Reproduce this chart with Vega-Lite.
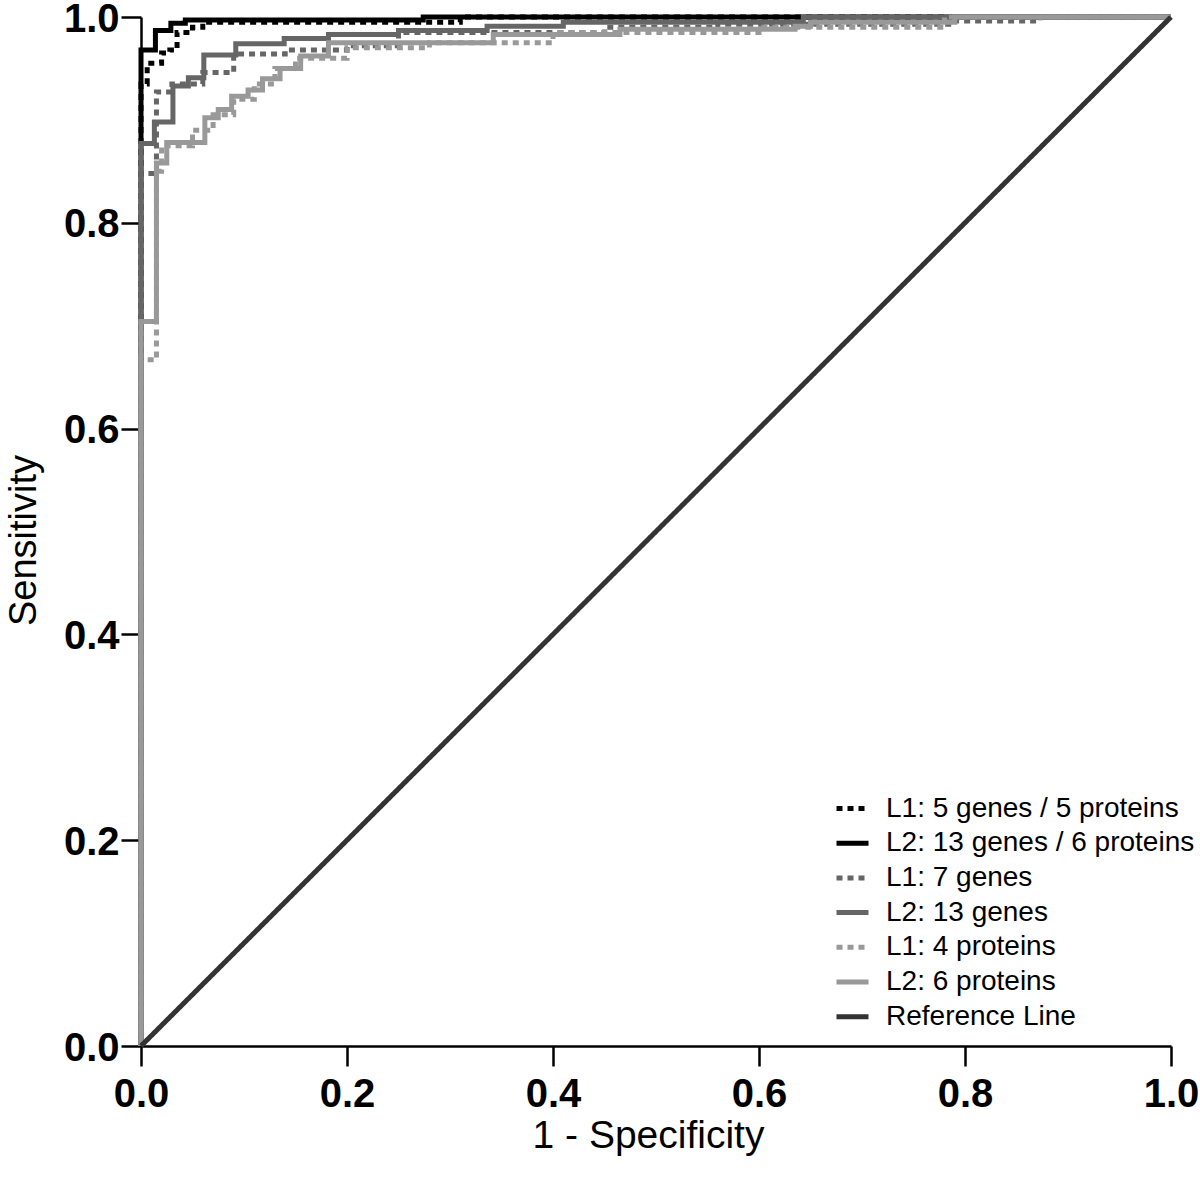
{
  "$schema": "https://vega.github.io/schema/vega-lite/v6.json",
  "autosize": "none",
  "width": 1030,
  "height": 1029,
  "padding": {"left": 141, "top": 17, "right": 29, "bottom": 136},
  "background": "white",
  "config": {
    "view": {"stroke": null},
    "font": "Liberation Sans"
  },
  "data": {
    "values": [
      {"s": "L1: 5 genes / 5 proteins", "i": 0, "x": 0, "y": 0},
      {"s": "L1: 5 genes / 5 proteins", "i": 1, "x": 0, "y": 0.935},
      {"s": "L1: 5 genes / 5 proteins", "i": 2, "x": 0.006, "y": 0.955},
      {"s": "L1: 5 genes / 5 proteins", "i": 3, "x": 0.02, "y": 0.965},
      {"s": "L1: 5 genes / 5 proteins", "i": 4, "x": 0.028, "y": 0.968},
      {"s": "L1: 5 genes / 5 proteins", "i": 5, "x": 0.035, "y": 0.985},
      {"s": "L1: 5 genes / 5 proteins", "i": 6, "x": 0.05, "y": 0.99},
      {"s": "L1: 5 genes / 5 proteins", "i": 7, "x": 0.06, "y": 0.995},
      {"s": "L1: 5 genes / 5 proteins", "i": 8, "x": 0.31, "y": 1},
      {"s": "L1: 5 genes / 5 proteins", "i": 9, "x": 1, "y": 1},

      {"s": "L2: 13 genes / 6 proteins", "i": 0, "x": 0, "y": 0},
      {"s": "L2: 13 genes / 6 proteins", "i": 1, "x": 0, "y": 0.968},
      {"s": "L2: 13 genes / 6 proteins", "i": 2, "x": 0.014, "y": 0.987},
      {"s": "L2: 13 genes / 6 proteins", "i": 3, "x": 0.029, "y": 0.994},
      {"s": "L2: 13 genes / 6 proteins", "i": 4, "x": 0.043, "y": 0.997},
      {"s": "L2: 13 genes / 6 proteins", "i": 5, "x": 0.274, "y": 1},
      {"s": "L2: 13 genes / 6 proteins", "i": 6, "x": 1, "y": 1},

      {"s": "L1: 7 genes", "i": 0, "x": 0, "y": 0},
      {"s": "L1: 7 genes", "i": 1, "x": 0, "y": 0.848},
      {"s": "L1: 7 genes", "i": 2, "x": 0.015, "y": 0.927},
      {"s": "L1: 7 genes", "i": 3, "x": 0.03, "y": 0.935},
      {"s": "L1: 7 genes", "i": 4, "x": 0.06, "y": 0.946},
      {"s": "L1: 7 genes", "i": 5, "x": 0.09, "y": 0.964},
      {"s": "L1: 7 genes", "i": 6, "x": 0.14, "y": 0.968},
      {"s": "L1: 7 genes", "i": 7, "x": 0.2, "y": 0.972},
      {"s": "L1: 7 genes", "i": 8, "x": 0.25, "y": 0.985},
      {"s": "L1: 7 genes", "i": 9, "x": 0.45, "y": 0.99},
      {"s": "L1: 7 genes", "i": 10, "x": 0.56, "y": 0.993},
      {"s": "L1: 7 genes", "i": 11, "x": 0.79, "y": 0.996},
      {"s": "L1: 7 genes", "i": 12, "x": 0.873, "y": 1},
      {"s": "L1: 7 genes", "i": 13, "x": 1, "y": 1},

      {"s": "L2: 13 genes", "i": 0, "x": 0, "y": 0},
      {"s": "L2: 13 genes", "i": 1, "x": 0, "y": 0.877},
      {"s": "L2: 13 genes", "i": 2, "x": 0.013, "y": 0.898},
      {"s": "L2: 13 genes", "i": 3, "x": 0.031, "y": 0.933},
      {"s": "L2: 13 genes", "i": 4, "x": 0.046, "y": 0.941},
      {"s": "L2: 13 genes", "i": 5, "x": 0.061, "y": 0.963},
      {"s": "L2: 13 genes", "i": 6, "x": 0.092, "y": 0.974},
      {"s": "L2: 13 genes", "i": 7, "x": 0.139, "y": 0.979},
      {"s": "L2: 13 genes", "i": 8, "x": 0.182, "y": 0.983},
      {"s": "L2: 13 genes", "i": 9, "x": 0.25, "y": 0.987},
      {"s": "L2: 13 genes", "i": 10, "x": 0.336, "y": 0.991},
      {"s": "L2: 13 genes", "i": 11, "x": 0.41, "y": 0.995},
      {"s": "L2: 13 genes", "i": 12, "x": 0.643, "y": 1},
      {"s": "L2: 13 genes", "i": 13, "x": 1, "y": 1},

      {"s": "L1: 4 proteins", "i": 0, "x": 0, "y": 0},
      {"s": "L1: 4 proteins", "i": 1, "x": 0, "y": 0.667},
      {"s": "L1: 4 proteins", "i": 2, "x": 0.015, "y": 0.85},
      {"s": "L1: 4 proteins", "i": 3, "x": 0.02, "y": 0.875},
      {"s": "L1: 4 proteins", "i": 4, "x": 0.05, "y": 0.89},
      {"s": "L1: 4 proteins", "i": 5, "x": 0.07, "y": 0.905},
      {"s": "L1: 4 proteins", "i": 6, "x": 0.09, "y": 0.92},
      {"s": "L1: 4 proteins", "i": 7, "x": 0.11, "y": 0.935},
      {"s": "L1: 4 proteins", "i": 8, "x": 0.13, "y": 0.95},
      {"s": "L1: 4 proteins", "i": 9, "x": 0.15, "y": 0.96},
      {"s": "L1: 4 proteins", "i": 10, "x": 0.2, "y": 0.97},
      {"s": "L1: 4 proteins", "i": 11, "x": 0.28, "y": 0.975},
      {"s": "L1: 4 proteins", "i": 12, "x": 0.4, "y": 0.985},
      {"s": "L1: 4 proteins", "i": 13, "x": 0.6, "y": 0.99},
      {"s": "L1: 4 proteins", "i": 14, "x": 0.78, "y": 1},
      {"s": "L1: 4 proteins", "i": 15, "x": 1, "y": 1},

      {"s": "L2: 6 proteins", "i": 0, "x": 0, "y": 0},
      {"s": "L2: 6 proteins", "i": 1, "x": 0, "y": 0.704},
      {"s": "L2: 6 proteins", "i": 2, "x": 0.015, "y": 0.858},
      {"s": "L2: 6 proteins", "i": 3, "x": 0.025, "y": 0.878},
      {"s": "L2: 6 proteins", "i": 4, "x": 0.062, "y": 0.902},
      {"s": "L2: 6 proteins", "i": 5, "x": 0.075, "y": 0.91},
      {"s": "L2: 6 proteins", "i": 6, "x": 0.088, "y": 0.923},
      {"s": "L2: 6 proteins", "i": 7, "x": 0.104, "y": 0.929},
      {"s": "L2: 6 proteins", "i": 8, "x": 0.118, "y": 0.94},
      {"s": "L2: 6 proteins", "i": 9, "x": 0.135, "y": 0.95},
      {"s": "L2: 6 proteins", "i": 10, "x": 0.155, "y": 0.962},
      {"s": "L2: 6 proteins", "i": 11, "x": 0.182, "y": 0.975},
      {"s": "L2: 6 proteins", "i": 12, "x": 0.342, "y": 0.983},
      {"s": "L2: 6 proteins", "i": 13, "x": 0.465, "y": 0.988},
      {"s": "L2: 6 proteins", "i": 14, "x": 0.635, "y": 0.991},
      {"s": "L2: 6 proteins", "i": 15, "x": 0.65, "y": 0.995},
      {"s": "L2: 6 proteins", "i": 16, "x": 0.79, "y": 1},
      {"s": "L2: 6 proteins", "i": 17, "x": 1, "y": 1},

      {"s": "Reference Line", "i": 0, "x": 0, "y": 0},
      {"s": "Reference Line", "i": 1, "x": 1, "y": 1}
    ]
  },
  "encoding": {
    "x": {
      "field": "x", "type": "quantitative",
      "scale": {"domain": [0, 1], "nice": false, "zero": false},
      "axis": {
        "values": [0, 0.2, 0.4, 0.6, 0.8, 1.0], "format": ".1f", "grid": false,
        "title": "1 - Specificity", "titleFontSize": 39, "titleFontWeight": "normal", "titleColor": "black", "titlePadding": 2, "titleX": 507,
        "labelFontSize": 40, "labelFontWeight": "bold", "labelColor": "black", "labelPadding": 8, "labelFlush": false,
        "tickSize": 20, "tickWidth": 2.5, "tickColor": "black",
        "domainColor": "black", "domainWidth": 2.5
      }
    },
    "y": {
      "field": "y", "type": "quantitative",
      "scale": {"domain": [0, 1], "nice": false, "zero": false},
      "axis": {
        "values": [0, 0.2, 0.4, 0.6, 0.8, 1.0], "format": ".1f", "grid": false,
        "title": "Sensitivity", "titleFontSize": 38, "titleFontWeight": "normal", "titleColor": "black", "titlePadding": 20, "titleY": 523,
        "labelFontSize": 40, "labelFontWeight": "bold", "labelColor": "black", "labelPadding": 2, "labelFlush": false,
        "labelBaseline": "alphabetic", "labelOffset": 14,
        "tickSize": 20, "tickWidth": 2.5, "tickColor": "black",
        "domainColor": "black", "domainWidth": 2.5
      }
    },
    "order": {"field": "i", "type": "quantitative"},
    "color": {
      "field": "s", "type": "nominal",
      "scale": {
        "domain": ["L1: 5 genes / 5 proteins", "L2: 13 genes / 6 proteins", "L1: 7 genes", "L2: 13 genes", "L1: 4 proteins", "L2: 6 proteins", "Reference Line"],
        "range": ["#000000", "#000000", "#666666", "#666666", "#999999", "#999999", "#333333"]
      },
      "legend": {
        "title": null, "orient": "none", "legendX": 693, "legendY": 773, "padding": 0,
        "symbolType": "stroke", "symbolSize": 1024, "symbolStrokeWidth": 5,
        "labelFontSize": 28, "labelColor": "black", "labelOffset": 15, "rowPadding": 1.7, "labelLimit": 400
      }
    },
    "strokeDash": {
      "field": "s", "type": "nominal",
      "scale": {
        "domain": ["L1: 5 genes / 5 proteins", "L2: 13 genes / 6 proteins", "L1: 7 genes", "L2: 13 genes", "L1: 4 proteins", "L2: 6 proteins", "Reference Line"],
        "range": [[6, 5], [1, 0], [6, 5], [1, 0], [6, 5], [1, 0], [1, 0]]
      },
      "legend": {
        "title": null, "orient": "none", "legendX": 693, "legendY": 773, "padding": 0,
        "symbolType": "stroke", "symbolSize": 1024, "symbolStrokeWidth": 5,
        "labelFontSize": 28, "labelColor": "black", "labelOffset": 15, "rowPadding": 1.7, "labelLimit": 400
      }
    }
  },
  "layer": [
    {
      "transform": [{"filter": "datum.s !== 'Reference Line'"}],
      "mark": {"type": "line", "interpolate": "step-after", "strokeWidth": 5, "strokeCap": "butt", "clip": false}
    },
    {
      "transform": [{"filter": "datum.s === 'Reference Line'"}],
      "mark": {"type": "line", "interpolate": "linear", "strokeWidth": 5, "strokeCap": "butt", "clip": false}
    }
  ]
}
